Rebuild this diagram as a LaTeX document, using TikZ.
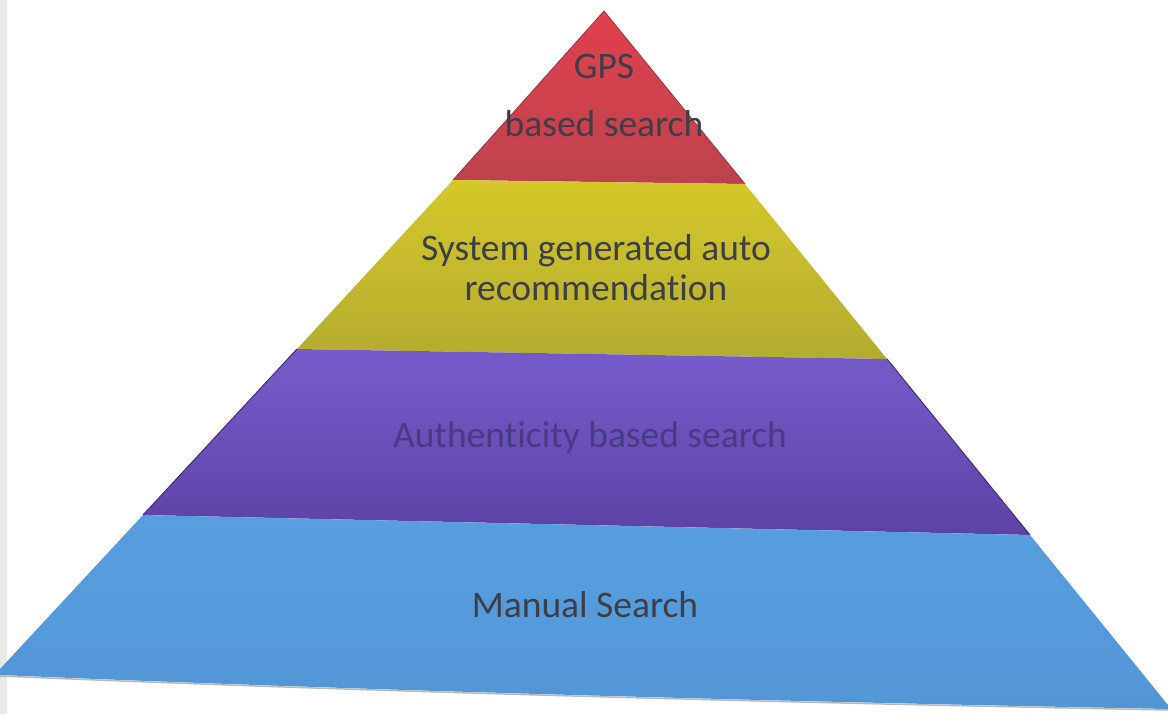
\documentclass[tikz,border=0pt]{standalone}
\usepackage{fontspec}
\setmainfont[Ligatures=NoCommon]{Carlito}
\definecolor{redT}{RGB}{226,64,78}
\definecolor{redB}{RGB}{188,66,78}
\definecolor{yelT}{RGB}{212,200,42}
\definecolor{yelB}{RGB}{180,172,48}
\definecolor{purT}{RGB}{118,92,202}
\definecolor{purB}{RGB}{92,66,165}
\definecolor{bluT}{RGB}{88,158,222}
\definecolor{bluB}{RGB}{82,150,214}
\definecolor{txt}{RGB}{62,62,72}
\definecolor{txtP}{RGB}{74,58,132}
\definecolor{scan}{RGB}{236,234,228}
\tikzset{
  label/.style={font=\fontsize{37.5}{40}\selectfont, text=txt, inner sep=0pt, align=center},
}
\begin{document}
\begin{tikzpicture}[x=1pt,y=-1pt]
\useasboundingbox (0,0) rectangle (1168,714);
\fill[white] (0,0) rectangle (1168,714);
\fill[scan] (0,0) rectangle (7,714);
% bands
\shade[top color=redT, bottom color=redB] (604,11) -- (745,184) -- (453,180) -- cycle;
\shade[top color=yelT, bottom color=yelB] (453,180) -- (745,184) -- (887,359) -- (297,349) -- cycle;
\shade[top color=purT, bottom color=purB] (297,349) -- (887,359) -- (1030,535) -- (143,515) -- cycle;
\shade[top color=bluT, bottom color=bluB] (143,515) -- (1030,535) -- (1168,705) -- (1168,709) .. controls (700,700) and (300,688) .. (0,675) -- (0,669) -- cycle;
% thin edges
\draw[redB!80!black, line width=0.8] (453,180) -- (604,11) -- (745,184);
\draw[purB!70!black, line width=1] (297,349) -- (143,515);
\draw[purB!70!black, line width=1] (887,359) -- (1030,535);
\draw[gray!55, line width=1.5] (1168,710) .. controls (700,701) and (300,689) .. (0,676);
% labels
\node[label] (gps) at (604,66) {GPS};
\node[label] (gpsb) at (604,124) {based search};
\node[label, text depth=0pt] (sys) at (596,267) {System generated auto\\recommendation};
\node[label, text=txtP] (auth) at (590,438) {Authenticity based search};
\node[label] (man) at (585,605) {Manual Search};
\end{tikzpicture}
\end{document}
